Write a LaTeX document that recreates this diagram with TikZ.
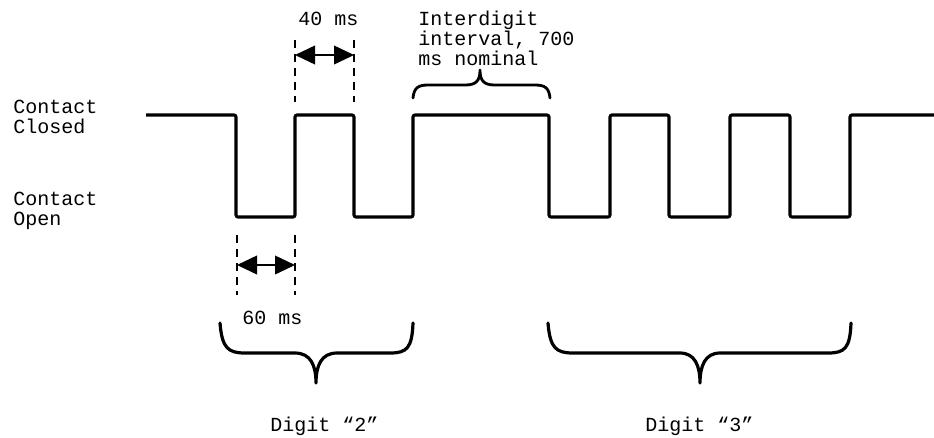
\documentclass[tikz,border=0pt]{standalone}
\usepackage{fontspec}
\setmainfont{Liberation Mono}
\usetikzlibrary{arrows.meta}
\begin{document}
\begin{tikzpicture}[x=0.75pt,y=-0.75pt,
  lbl/.style={anchor=base west,inner sep=0pt,font=\fontsize{15pt}{15pt}\selectfont,align=left},
  wave/.style={line width=2.3pt,rounded corners=1.5pt},
  guide/.style={line width=1.6pt,dash pattern=on 6pt off 4.5pt},
  dim/.style={line width=1.3pt,{Triangle[length=15pt,width=14pt]}-{Triangle[length=15pt,width=14pt]}},
  brace/.style={line width=2.4pt,line cap=round,line join=round}]
\useasboundingbox (0,0) rectangle (934,437);
% waveform
\draw[wave] (146,115) -- (236,115) -- (236,217) -- (295,217) -- (295,115) -- (354,115) -- (354,217)
  -- (413,217) -- (413,115) -- (549,115) -- (549,217) -- (610,217) -- (610,115) -- (669,115)
  -- (669,217) -- (730,217) -- (730,115) -- (790,115) -- (790,217) -- (850,217) -- (850,115) -- (934,115);
% labels left (anchor at baseline of last line)
\node[lbl] (closed) at (13,133) {Contact\\Closed};
\node[lbl] (open) at (13,225) {Contact\\Open};
% 40 ms
\coordinate (a1t) at (295,40); \coordinate (a1b) at (295,102);
\coordinate (a2t) at (354,40); \coordinate (a2b) at (354,102);
\draw[guide] (a1t) -- (a1b);
\draw[guide] (a2t) -- (a2b);
\coordinate (a1) at (295,55); \coordinate (a2) at (354,55);
\draw[dim] (a1) -- (a2);
\node[lbl] (t40) at (298,25) {40 ms};
% 60 ms
\coordinate (b1t) at (237,235); \coordinate (b1b) at (237,295);
\coordinate (b2t) at (295,235); \coordinate (b2b) at (295,295);
\draw[guide] (b1t) -- (b1b);
\draw[guide] (b2t) -- (b2b);
\coordinate (b1) at (237,265); \coordinate (b2) at (295,265);
\draw[dim] (b1) -- (b2);
\node[lbl] (t60) at (242,324) {60 ms};
% interdigit
\node[lbl] (inter) at (418,65) {Interdigit\\interval, 700\\ms nominal};
\draw[brace,line width=2.1pt] (413,98) .. controls (414,88) and (418,85) .. (428,85) -- (465,85)
  .. controls (476,85) and (480,81) .. (480,70) .. controls (480,81) and (484,85) .. (495,85)
  -- (535,85) .. controls (545,85) and (549,88) .. (550,98);
% digit braces
\draw[brace] (220,323) .. controls (222,348) and (228,353) .. (245,353) -- (295,353)
  .. controls (311,353) and (316,366) .. (316,383) .. controls (316,366) and (321,353) .. (337,353)
  -- (390,353) .. controls (407,353) and (412,348) .. (413,323);
\draw[brace] (548,323) .. controls (550,348) and (556,353) .. (573,353) -- (680,353)
  .. controls (695,353) and (700,366) .. (700,383) .. controls (700,366) and (705,353) .. (720,353)
  -- (828,353) .. controls (845,353) and (850,348) .. (851,323);
\node[lbl] (d2) at (270,431) {Digit “2”};
\node[lbl] (d3) at (645,431) {Digit “3”};
\end{tikzpicture}
\end{document}
